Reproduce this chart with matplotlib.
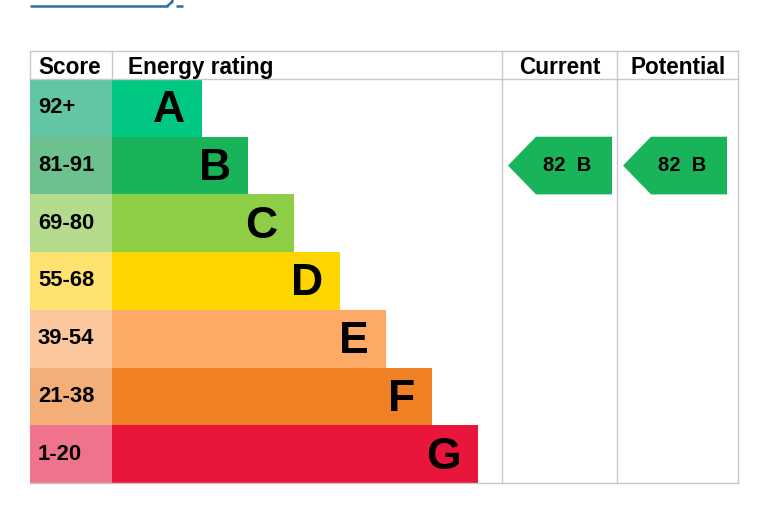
import matplotlib.pyplot as plt
from matplotlib.patches import Rectangle, Polygon

plt.rcParams['font.family'] = ['Liberation Sans', 'DejaVu Sans']

bands = ['A', 'B', 'C', 'D', 'E', 'F', 'G']
score_ranges = ['92+', '81-91', '69-80', '55-68', '39-54', '21-38', '1-20']
band_colors = ['#00c781', '#19b459', '#8dce46', '#ffd500', '#fcaa65', '#ef8023', '#e9153b']
score_colors = ['#62c5a3', '#6bc28e', '#b3db8b', '#ffe26f', '#fcc79c', '#f4ae78', '#ef738a']
current_score, current_band = 82, 'B'
potential_score, potential_band = 82, 'B'

W, H = 768, 527
fig = plt.figure(figsize=(W / 100, H / 100), dpi=100)
ax = fig.add_axes([0, 0, 1, 1])
ax.set_xlim(0, W)
ax.set_ylim(H, 0)
ax.axis('off')

left, score_right, rating_right, current_right, right = 30, 112, 502, 617, 738
top, head_bottom, row_h = 51, 79, 57.7
bar_base, bar_step = 90, 46
grid = '#c8c8c8'
link = '#2b6f9c'

# cut-off link at the top
ax.plot([30, 168], [5.5, 5.5], color=link, lw=1.8, solid_capstyle='butt')
ax.plot([168, 172], [5.5, 2], color=link, lw=1.8)
ax.plot([172, 172.5], [2, 0], color=link, lw=1.8)
ax.plot([176, 183], [5.5, 5.5], color=link, lw=1.8, solid_capstyle='butt')

bottom = head_bottom + row_h * len(bands)

# header
hdr = dict(fontsize=16.3, fontweight='bold', va='baseline')
ax.text(38, 74, 'Score', **hdr)
ax.text(128, 74, 'Energy rating', **hdr)
ax.text((rating_right + current_right) / 2, 74, 'Current', ha='center', **hdr)
ax.text((current_right + right) / 2 + 1, 74, 'Potential', ha='center', **hdr)

# rows
for i, (band, rng) in enumerate(zip(bands, score_ranges)):
    y0 = head_bottom + i * row_h
    ax.add_patch(Rectangle((left, y0), score_right - left, row_h,
                           facecolor=score_colors[i], edgecolor='none'))
    bar_end = score_right + bar_base + bar_step * i
    ax.add_patch(Rectangle((score_right, y0), bar_end - score_right, row_h,
                           facecolor=band_colors[i], edgecolor='none'))
    ax.text(38, y0 + row_h / 2, rng, fontsize=15.8, fontweight='bold', va='center')
    ax.text(bar_end - 17, y0 + row_h / 2 + 3, band, fontsize=32, fontweight='bold',
            ha='right', va='center')

# grid lines
lw = 1.0
ax.plot([left, right], [top, top], color=grid, lw=lw)
ax.plot([left, right], [head_bottom, head_bottom], color=grid, lw=lw)
ax.plot([left, right], [bottom, bottom], color=grid, lw=lw)
ax.plot([left, left], [top, head_bottom], color=grid, lw=lw)
ax.plot([score_right, score_right], [top, head_bottom], color=grid, lw=lw)
for x in (rating_right, current_right, right):
    ax.plot([x, x], [top, bottom], color=grid, lw=lw)


def arrow(x0, x1, score, band):
    i = bands.index(band)
    y0 = head_bottom + i * row_h
    y1 = y0 + row_h
    notch = x0 + 28
    pts = [(x0, (y0 + y1) / 2), (notch, y0), (x1, y0), (x1, y1), (notch, y1)]
    ax.add_patch(Polygon(pts, closed=True, facecolor=band_colors[i], edgecolor='none'))
    ax.text((notch + x1) / 2 - 7, (y0 + y1) / 2, f'{score}  {band}', fontsize=14.5,
            fontweight='bold', ha='center', va='center')


arrow(508, 612, current_score, current_band)
arrow(623, 727, potential_score, potential_band)

fig.savefig('out.png', dpi=100)
